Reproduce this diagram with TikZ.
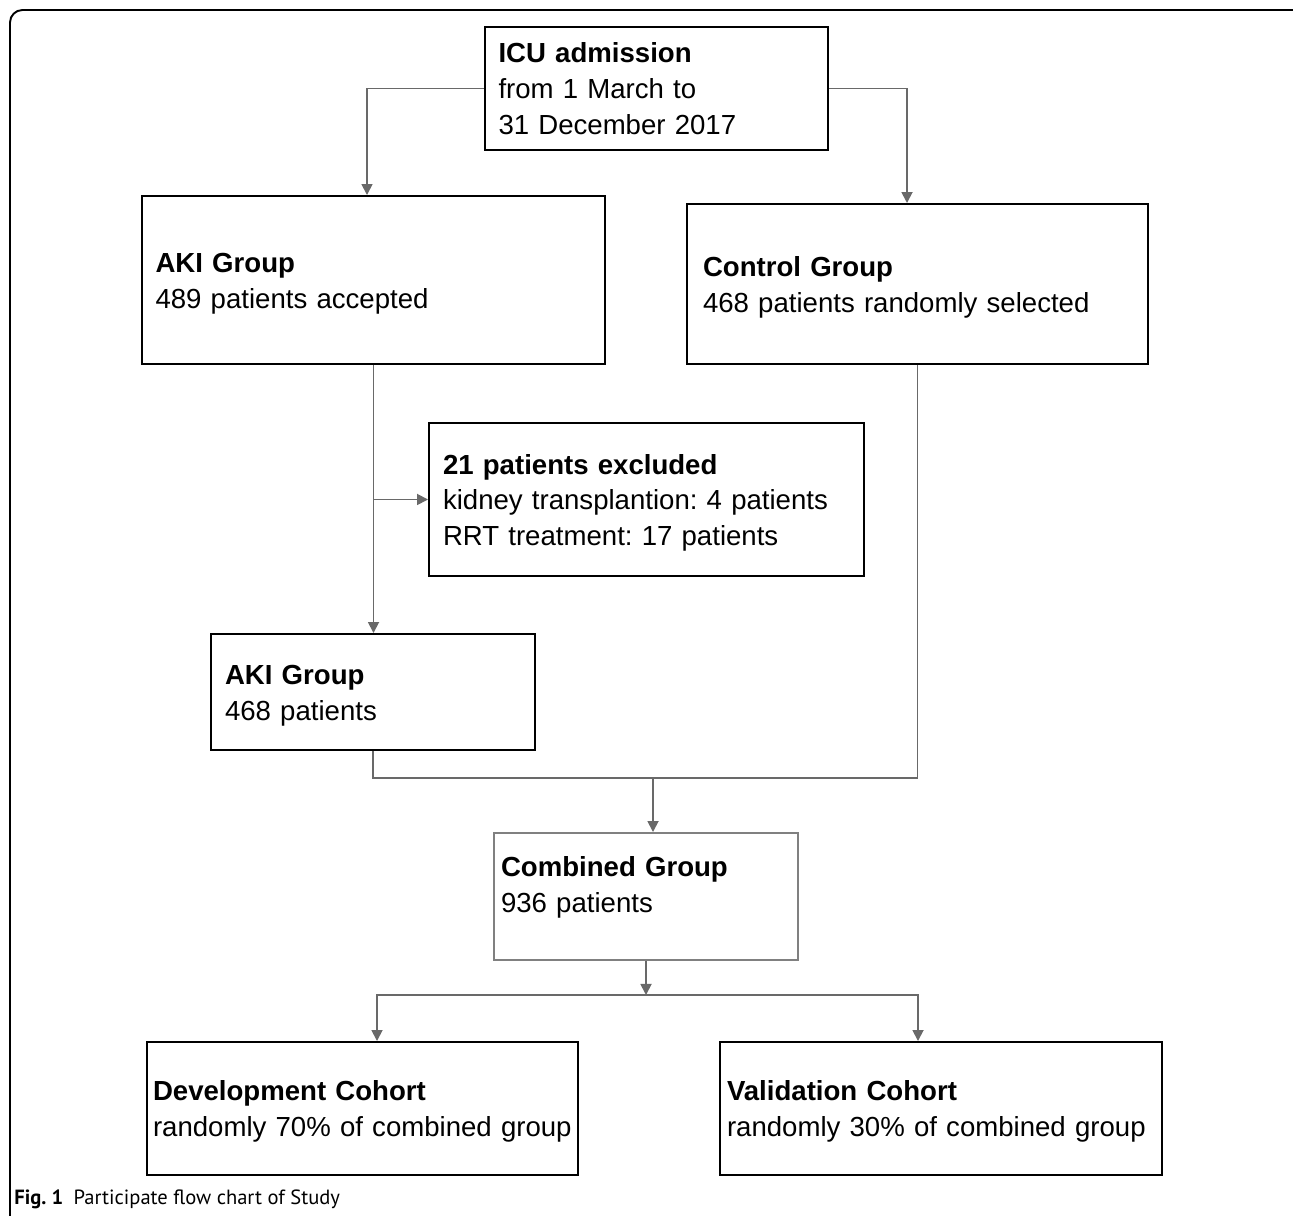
\documentclass[tikz,border=0pt]{standalone}
\usepackage{fontspec}
\setmainfont{Liberation Sans}
\newfontfamily\captionfont{PT Sans}
\usepackage{tikz}
\usetikzlibrary{arrows.meta}
\tikzset{>={Triangle[length=0.22cm,width=0.22cm]}}
\definecolor{connector}{RGB}{105,105,105}
\definecolor{lightedge}{RGB}{128,128,128}
\tikzset{
    box/.style = {draw, line width=1.1pt, rectangle, align=left, inner xsep=0.27cm, inner ysep=0pt, font=\fontsize{15.7}{20.4}\selectfont},
    lowered/.style = {execute at begin node={\rule{0pt}{0.53cm}}},
    link/.style = {draw=connector, line width=1pt},
}

\begin{document}
\frenchspacing
\begin{tikzpicture}
            \useasboundingbox (0, 0) rectangle (25.86, 24.3);
            \begin{scope}
                \clip (0, 0) rectangle (25.86, 24.3);
                \draw[line width=1.1pt, rounded corners=0.25cm] (0.2, -0.5) rectangle (26.2, 24.1);
            \end{scope}
            \node[box, text width=6.32cm, minimum height=2.46cm] (icu) at (13.13, 22.53) {\textbf{ICU admission}\\from 1 March to\\31 December 2017};
            \node[box, lowered, text width=8.72cm, minimum height=3.36cm] (aki) at (7.47, 18.70) {\textbf{AKI Group}\\489 patients accepted};
            \node[box, lowered, inner xsep=0.32cm, text width=8.58cm, minimum height=3.2cm] (control) at (18.35, 18.62) {\textbf{Control Group}\\468 patients randomly selected};
            \node[box, lowered, inner xsep=0.28cm, text width=8.14cm, minimum height=3.06cm] (excl) at (12.93, 14.31) {\textbf{21 patients excluded}\\kidney transplantion: 4 patients\\RRT treatment: 17 patients};
            \node[box, lowered, inner xsep=0.28cm, text width=5.92cm, minimum height=2.32cm] (aki2) at (7.46, 10.46) {\textbf{AKI Group}\\468 patients};
            \node[box, lowered, draw=lightedge, inner xsep=0.14cm, text width=5.8cm, minimum height=2.54cm] (comb) at (12.92, 6.37) {\textbf{Combined Group}\\936 patients\\[-0.12cm]\mbox{}};
            \node[box, lowered, inner xsep=0.12cm, text width=8.38cm, minimum height=2.66cm] (dev) at (7.25, 2.13) {\textbf{Development Cohort}\\randomly 70\% of combined group};
            \node[box, lowered, inner xsep=0.14cm, text width=8.56cm, minimum height=2.66cm] (val) at (18.82, 2.13) {\textbf{Validation Cohort}\\randomly 30\% of combined group};
            \draw[link, ->] (icu.west) -| ([xshift=-0.13cm]aki.north);
            \draw[link, ->] (icu.east) -| ([xshift=-0.21cm]control.north);
            \draw[link, ->] (aki.south) -- (aki.south |- aki2.north);
            \draw[link, ->] (aki.south |- excl.west) -- (excl.west);
            \coordinate (merge) at (13.06, 8.74);
            \draw[link] (aki2.south) |- (merge) -| (control.south);
            \draw[link, ->] (merge) -- (merge |- comb.north);
            \coordinate (split) at (12.92, 4.4);
            \draw[link, ->] (comb.south) -- (split);
            \draw[link, ->] (split) -| ([xshift=0.29cm]dev.north);
            \draw[link, ->] (split) -| ([xshift=-0.46cm]val.north);
            \node[anchor=base west, inner sep=0pt, font=\captionfont\fontsize{11.7}{13}\selectfont] (caption) at (0.28, 0.22) {\textbf{Fig. 1}\hspace{0.5em}Participate flow chart of Study};
        \end{tikzpicture}
\end{document}
